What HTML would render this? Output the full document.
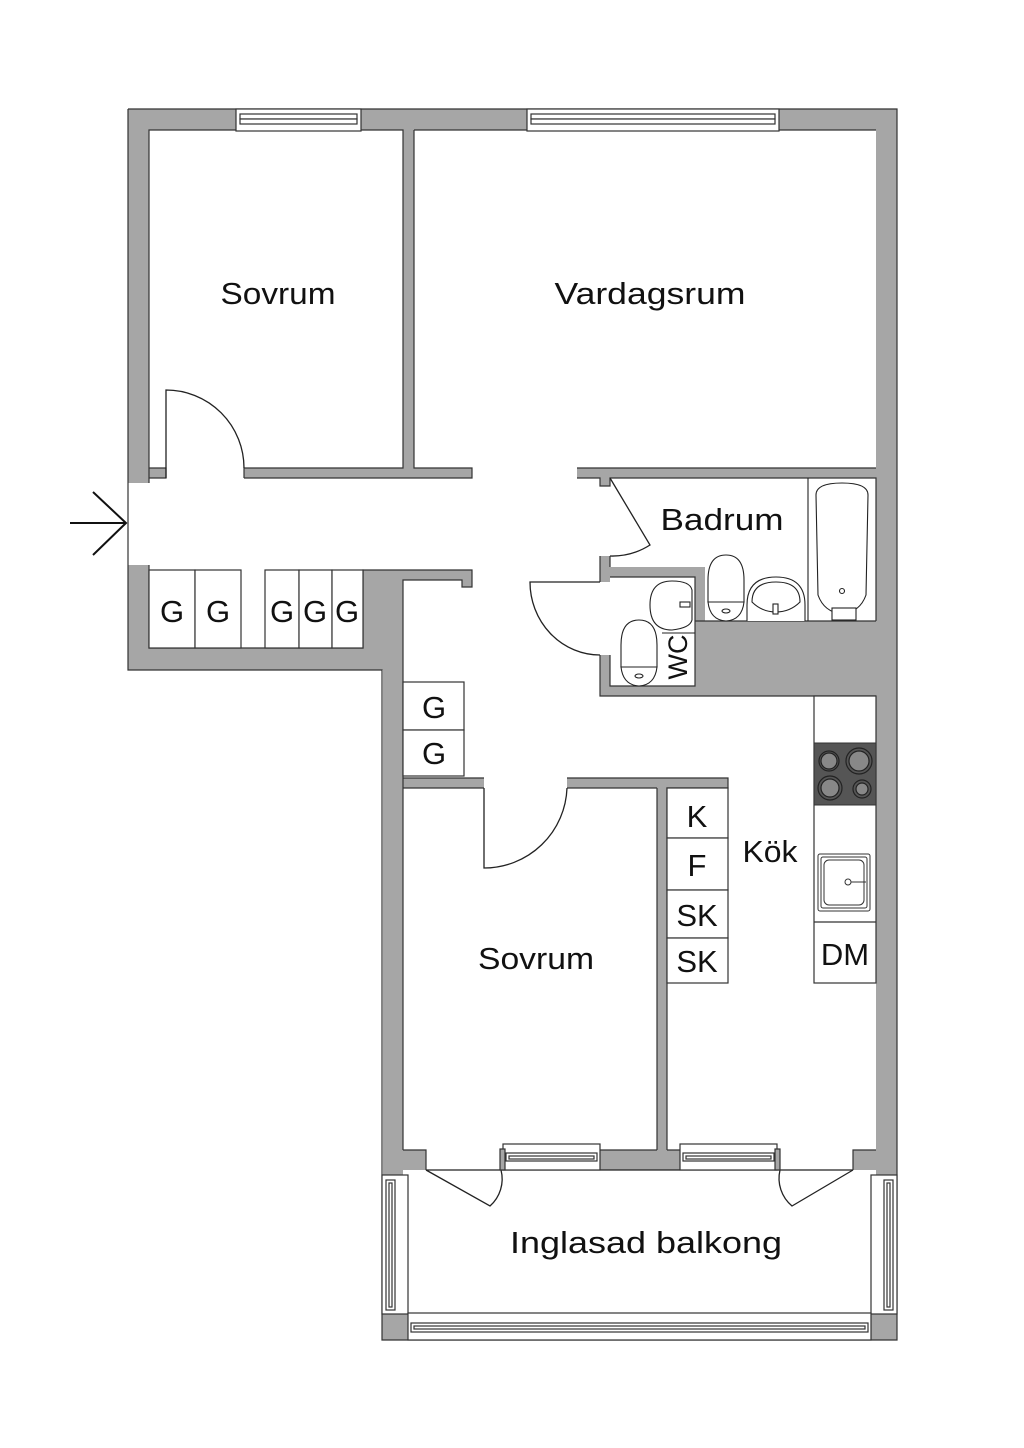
<!DOCTYPE html>
<html><head><meta charset="utf-8"><style>
html,body{margin:0;padding:0;background:#fff;}
svg{display:block;}
text{font-family:"Liberation Sans",sans-serif;fill:#111;}
</style></head><body>
<svg width="1024" height="1448" viewBox="0 0 1024 1448" xmlns="http://www.w3.org/2000/svg">
<g fill="#a6a6a6">
<rect x="128" y="109" width="769" height="21"/>
<rect x="128" y="109" width="21" height="374"/>
<rect x="149" y="468" width="17" height="10"/>
<rect x="128" y="565" width="21" height="105"/>
<rect x="128" y="648" width="255" height="22"/>
<rect x="363" y="570" width="40" height="80"/>
<rect x="403" y="570" width="69" height="10"/>
<rect x="462" y="570" width="10" height="17"/>
<rect x="383" y="570" width="20" height="770"/>
<rect x="403" y="130" width="11" height="340"/>
<rect x="244" y="468" width="228" height="10"/>
<rect x="876" y="109" width="21" height="1231"/>
<rect x="577" y="468" width="299" height="10"/>
<rect x="600" y="468" width="10" height="18"/>
<rect x="600" y="556" width="10" height="26"/>
<rect x="600" y="567" width="105" height="10"/>
<rect x="695" y="567" width="10" height="54"/>
<rect x="695" y="621" width="181" height="75"/>
<rect x="600" y="655" width="10" height="41"/>
<rect x="600" y="686" width="276" height="10"/>
<rect x="403" y="778" width="81" height="10"/>
<rect x="567" y="778" width="161" height="10"/>
<rect x="657" y="788" width="10" height="362"/>
<rect x="383" y="1150" width="43" height="20"/>
<rect x="600" y="1150" width="80" height="20"/>
<rect x="853" y="1150" width="44" height="20"/>
<rect x="382" y="1314" width="26" height="26"/>
<rect x="871" y="1314" width="26" height="26"/>
</g>
<g fill="none" stroke="#333" stroke-width="1.2">
<path d="M128,109 H897 V1340 H382 V670 H128 V565"/>
<path d="M128,483 V109"/>
<path d="M149,483 V130 H403 V468 H244 V478 M149,468 H166 V478 H149"/>
<path d="M414,130 H876"/>
<path d="M414,130 V468 H472 V478 H244"/>
<path d="M149,565 V648 H363 V570 H472 V587 H462 V580 H403 V1150"/>
<path d="M577,468 H876 M577,478 H600 V486 H610 V478 H876 V621"/>
<path d="M600,556 V582 M610,556 V567"/>
<path d="M610,577 H695 V621 H876 M600,655 V696 H876 M610,655 V686 H695 V621"/>
<path d="M403,778 H484 M567,778 H728 V788 H667 V1150 M657,788 V1150 M403,788 H484 M567,788 H657"/>
<path d="M403,1150 H426 V1170 M657,1150 H600 M667,1150 H680 M876,1150 H853 V1170"/>
</g>
<line x1="128" y1="483" x2="128" y2="565" stroke="#333" stroke-width="1.2"/>
<g stroke="#111" stroke-width="2" fill="none">
<path d="M70,523 H126 M93,492 L126,523 L93,555"/>
</g>
<g fill="#fff" stroke="#333" stroke-width="1.2">
<rect x="236" y="109" width="125" height="22"/>
<rect x="240" y="114" width="117" height="5"/>
<rect x="240" y="119" width="117" height="5"/>
<rect x="527" y="109" width="252" height="22"/>
<rect x="531" y="114" width="244" height="5"/>
<rect x="531" y="119" width="244" height="5"/>
</g>
<g fill="#fff" stroke="#333" stroke-width="1.2">
<rect x="149" y="570" width="46" height="78"/>
<rect x="195" y="570" width="46" height="78"/>
<rect x="265" y="570" width="34" height="78"/>
<rect x="299" y="570" width="33" height="78"/>
<rect x="332" y="570" width="31" height="78"/>
<rect x="403" y="682" width="61" height="48"/>
<rect x="403" y="730" width="61" height="46"/>
<rect x="667" y="788" width="61" height="50"/>
<rect x="667" y="838" width="61" height="52"/>
<rect x="667" y="890" width="61" height="48"/>
<rect x="667" y="938" width="61" height="45"/>
<rect x="814" y="696" width="62" height="287"/>
<line x1="814" y1="922" x2="876" y2="922"/>
</g>
<rect x="814" y="743" width="62" height="62" fill="#555" stroke="#333"/>
<g fill="#888" stroke="#222" stroke-width="1.2">
<circle cx="829" cy="761" r="8"/><circle cx="829" cy="761" r="10" fill="none"/>
<circle cx="859" cy="761" r="10"/><circle cx="859" cy="761" r="13" fill="none"/>
<circle cx="830" cy="788" r="9"/><circle cx="830" cy="788" r="12" fill="none"/>
<circle cx="862" cy="789" r="6"/><circle cx="862" cy="789" r="9" fill="none"/>
</g>
<g fill="#fff" stroke="#333" stroke-width="1">
<rect x="818" y="854" width="52" height="57" rx="2"/>
<rect x="821" y="857" width="46" height="51" rx="2"/>
<rect x="824" y="860" width="40" height="45" rx="5"/>
<circle cx="848" cy="882" r="3"/>
<line x1="851" y1="882" x2="866" y2="882"/>
</g>
<g fill="none" stroke="#222" stroke-width="1.3">
<path d="M166,478 V390 A78,78 0 0 1 244,468"/>
<path d="M484,788 V868 A83,83 0 0 0 567,788"/>
<path d="M610,478 L650,545 A70,70 0 0 1 610,556"/>
<path d="M600,582 H530 A70,73 0 0 0 600,655"/>
<path d="M426,1170 L490,1206 A36,36 0 0 0 501,1170"/>
<path d="M853,1170 L792,1206 A36,36 0 0 1 780,1170"/>
<line x1="426" y1="1170" x2="853" y2="1170"/>
</g>
<g fill="#fff" stroke="#333" stroke-width="1.2">
<rect x="503" y="1144" width="97" height="26"/>
<rect x="506" y="1153" width="91" height="8"/>
<rect x="509" y="1156" width="85" height="3"/>
<rect x="680" y="1144" width="97" height="26"/>
<rect x="683" y="1153" width="91" height="8"/>
<rect x="686" y="1156" width="85" height="3"/>
<rect x="500" y="1149" width="5" height="21" fill="#a6a6a6"/>
<rect x="775" y="1149" width="5" height="21" fill="#a6a6a6"/>
<rect x="382" y="1175" width="26" height="139"/>
<rect x="386" y="1180" width="9" height="130"/>
<rect x="389" y="1183" width="3" height="124"/>
<rect x="871" y="1175" width="26" height="139"/>
<rect x="884" y="1180" width="9" height="130"/>
<rect x="887" y="1183" width="3" height="124"/>
<rect x="408" y="1313" width="463" height="27"/>
<rect x="411" y="1323" width="457" height="9"/>
<rect x="414" y="1326" width="451" height="3"/>
</g>
<g fill="#fff" stroke="#222" stroke-width="1.1">
<line x1="808" y1="478" x2="808" y2="621"/>
<path d="M816,495 Q816,483 842,483 Q868,483 868,495 L866,595 Q860,612 842,614 Q824,612 818,595 Z"/>
<circle cx="842" cy="591" r="2.5"/>
<rect x="832" y="608" width="24" height="12"/>
<path d="M708,580 Q708,555 726,555 Q744,555 744,580 V602 H708 Z"/>
<path d="M708,602 H744 Q742,620 726,621 Q710,620 708,602 Z"/>
<ellipse cx="726" cy="611" rx="4" ry="2"/>
<path d="M747,621 V605 Q747,577 776,577 Q805,577 805,605 V621"/>
<path d="M752,602 Q752,582 776,582 Q800,582 800,602 Q790,612 776,612 Q762,612 752,602 Z"/>
<rect x="773" y="604" width="5" height="10"/>
<path d="M621,645 Q621,620 639,620 Q657,620 657,645 V667 H621 Z"/>
<path d="M621,667 H657 Q655,685 639,686 Q623,685 621,667 Z"/>
<ellipse cx="639" cy="676" rx="4" ry="2"/>
<path d="M650,605 Q650,581 672,581 Q690,581 692,590 V620 Q690,628 672,630 Q650,630 650,605 Z"/>
<rect x="680" y="602" width="10" height="5"/>
<line x1="662" y1="633" x2="695" y2="633"/>
</g>
<g font-size="31" text-anchor="middle">
<text x="278" y="304" textLength="115" lengthAdjust="spacingAndGlyphs">Sovrum</text>
<text x="650" y="304" textLength="191" lengthAdjust="spacingAndGlyphs">Vardagsrum</text>
<text x="722" y="530" textLength="123" lengthAdjust="spacingAndGlyphs">Badrum</text>
<text x="770" y="862" textLength="55" lengthAdjust="spacingAndGlyphs">Kök</text>
<text x="536" y="969" textLength="116" lengthAdjust="spacingAndGlyphs">Sovrum</text>
<text x="646" y="1253" textLength="272" lengthAdjust="spacingAndGlyphs">Inglasad balkong</text>
<text x="845" y="965">DM</text>
<text x="697" y="827">K</text>
<text x="697" y="876">F</text>
<text x="697" y="926">SK</text>
<text x="697" y="972">SK</text>
<text x="434" y="718">G</text>
<text x="434" y="764">G</text>
<text x="172" y="622">G</text>
<text x="218" y="622">G</text>
<text x="282" y="622">G</text>
<text x="315" y="622">G</text>
<text x="347" y="622">G</text>
</g>
<text x="0" y="0" font-size="27" text-anchor="middle" transform="translate(687,657) rotate(-90)">WC</text>
</svg>
</body></html>
